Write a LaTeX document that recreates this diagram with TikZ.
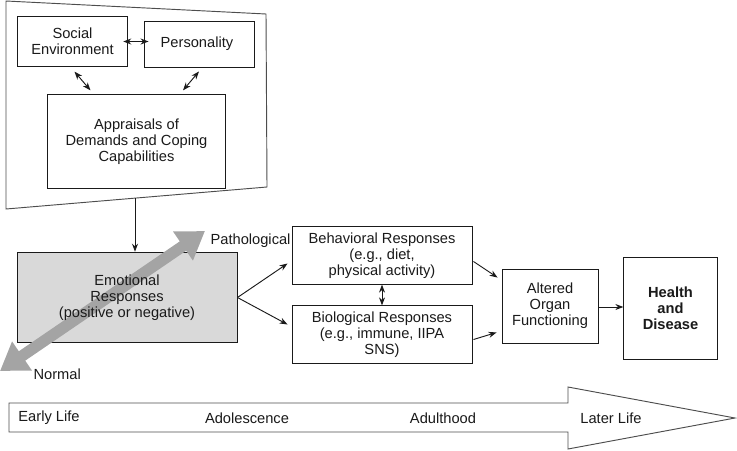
\documentclass[tikz,border=0pt]{standalone}
\usepackage{fontspec}
\setmainfont{Liberation Sans}
\usetikzlibrary{
  arrows.meta,
  calc,
  positioning
}
\definecolor{lifeInk}{HTML}{1A1A1A}
\definecolor{lifeFrame}{HTML}{4D4D4D}
\definecolor{lifeShade}{HTML}{D9D9D9}
\definecolor{lifeArrow}{HTML}{A4A4A4}
\tikzset{
  every node/.style={font=\fontsize{11}{12}\selectfont, text=lifeInk},
  box/.style={
    draw=lifeInk,
    line width=0.7pt,
    fill=white,
    align=center,
    inner sep=2pt
  },
  shaded/.style={
    box,
    fill=lifeShade
  },
  frame/.style={
    draw=lifeFrame,
    line width=0.7pt
  },
  link/.style={
    ->,
    >={Stealth[length=6pt,width=4.5pt]},
    line width=0.7pt,
    draw=lifeInk
  },
  twoway/.style={
    link,
    <->
  },
  bigarrow/.style={
    {Triangle[length=20pt,width=25pt]}-{Triangle[length=20pt,width=25pt]},
    line width=8.5pt,
    draw=lifeArrow
  },
  axislabel/.style={font=\fontsize{11}{12}\selectfont}
}

\begin{document}
\begin{tikzpicture}[x=0.75pt, y=-0.75pt]
  \useasboundingbox (0,0) rectangle (737,450);

  % upper panel
  \draw[frame] (6,1) -- (266,14) -- (267,187) -- (6,209) -- cycle;
  \coordinate (panelfoot) at (135,198);

  \node[box, minimum width=83pt, minimum height=37pt] (social) at (72.5,41.5) {
    Social\\
    Environment
  };
  \node[box, minimum width=82.5pt, minimum height=34.5pt] (personality) at (199,44) {
    Personality
  };
  \node[box, minimum width=134pt, minimum height=70pt] (appraisals) at (136.5,141.5) {
    Appraisals of\\
    Demands and Coping\\
    Capabilities
  };

  \draw[twoway] ([xshift=-3.75pt]social.east) -- ([xshift=3.75pt]social.east -| personality.west);
  \draw[twoway] ([shift={(2,5)}]social.south) -- ([shift={(-46,-4)}]appraisals.north);
  \draw[twoway] ([shift={(0,4)}]personality.south) -- ([shift={(46.5,-4)}]appraisals.north);

  % emotional responses
  \node[shaded, minimum width=165pt, minimum height=68pt] (emotional) at (127,297.5) {};
  \draw[link] (panelfoot) -- (panelfoot |- emotional.north);

  \coordinate (normalend) at (0,371);
  \coordinate (pathend) at (205,231);
  \draw[bigarrow] (normalend) -- (pathend);

  \node[align=center] (emotext) at (emotional) {
    Emotional\\
    Responses\\
    (positive or negative)
  };
  \node[anchor=west, inner sep=1pt] (pathological) at (209,241) {Pathological};
  \node[anchor=west, inner sep=1pt] (normal) at (32,374) {Normal};

  % responses and outcomes
  \node[box, minimum width=135pt, minimum height=43pt] (behavioral) at (382,255.5) {
    Behavioral Responses\\
    (e.g., diet,\\
    physical activity)
  };
  \node[box, minimum width=135pt, minimum height=43pt] (biological) at (382,334.5) {
    Biological Responses\\
    (e.g., immune, IIPA\\
    SNS)
  };
  \node[box, minimum width=72pt, minimum height=55.5pt] (altered) at (550,306) {
    Altered\\
    Organ\\
    Functioning
  };
  \node[box, minimum width=70pt, minimum height=76pt, font=\fontsize{11}{12}\selectfont\bfseries] (health) at (670.5,308.5) {
    Health\\
    and\\
    Disease
  };

  \draw[link] (emotional.east) -- ([shift={(-4,8)}]behavioral.west);
  \draw[link] (emotional.east) -- ([shift={(-4,-10)}]biological.west);
  \draw[twoway] (behavioral.south) -- (biological.north);
  \draw[link] ([shift={(1,6)}]behavioral.east) -- ([shift={(-4,9)}]altered.north west);
  \draw[link] ([shift={(1,5)}]biological.east) -- ([shift={(-5,-11)}]altered.south west);
  \draw[link] ([yshift=-0.75pt]altered.east) -- ([yshift=-0.75pt]altered.east -| health.west);

  % life course
  \draw[frame, fill=white] (9,403) -- (568,403) -- (568,387) -- (735,418)
    -- (568,449) -- (568,432) -- (9,432) -- cycle;
  \node[axislabel] (early) at (49,418) {Early Life};
  \node[axislabel] (adolescence) at (247,418) {Adolescence};
  \node[axislabel] (adulthood) at (443,418) {Adulthood};
  \node[axislabel] (later) at (611,418) {Later Life};
\end{tikzpicture}
\end{document}
